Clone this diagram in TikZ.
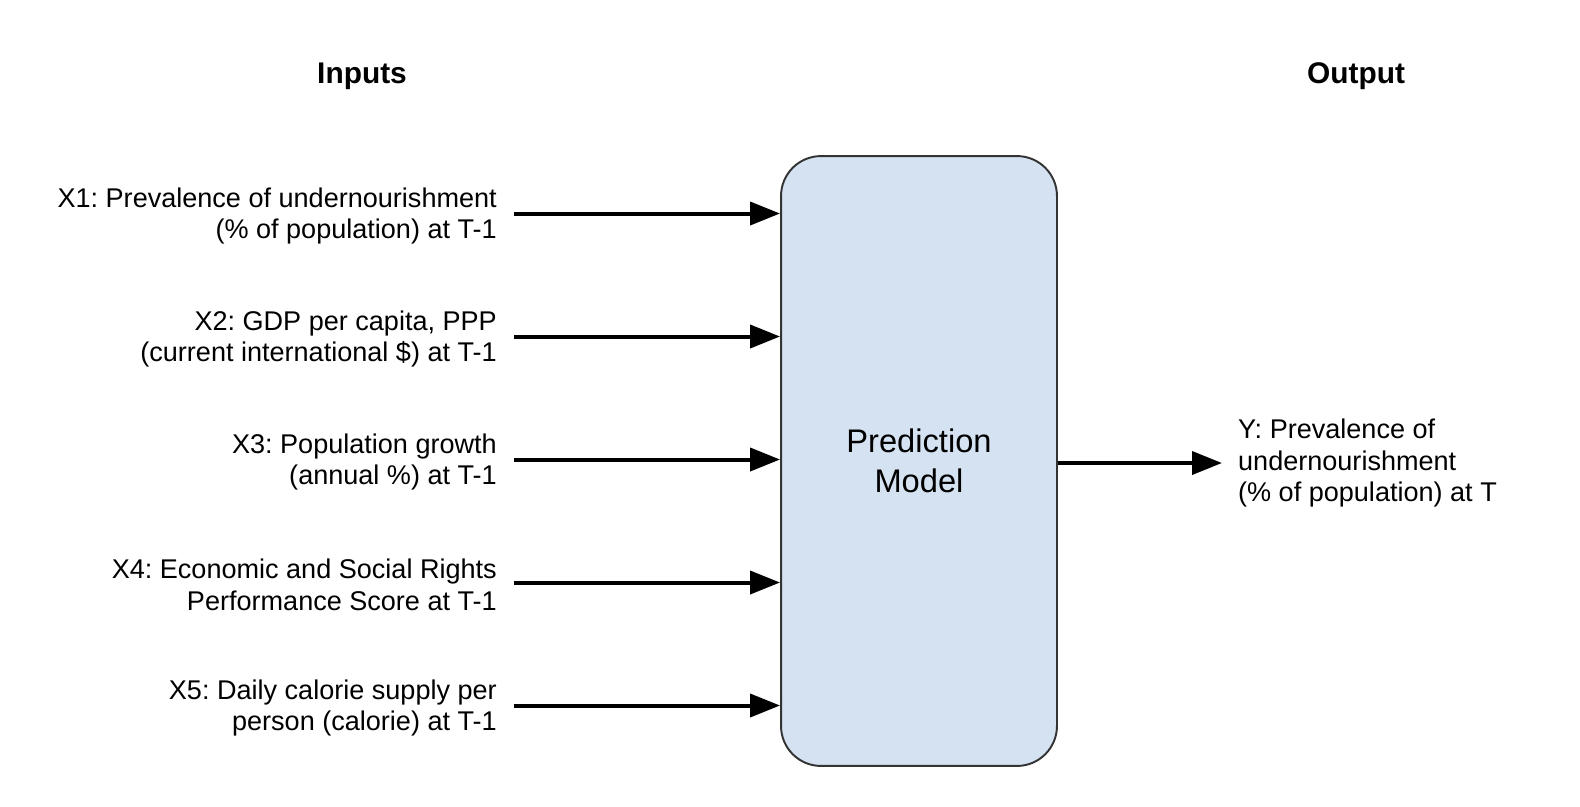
\documentclass[tikz,border=0pt]{standalone}
\usepackage{fontspec}
\setmainfont{Liberation Sans}
\frenchspacing
\usetikzlibrary{shapes,arrows.meta}
\definecolor{modelblue}{RGB}{213,226,242}
\definecolor{modeledge}{RGB}{51,51,51}
\tikzstyle{block} = [rectangle, draw=modeledge, line width=1.1pt, fill=modelblue, rounded corners=0.8cm,
minimum width=5.52cm, minimum height=12.2cm, align=center, font=\fontsize{18.6}{22.7}\selectfont]
\tikzstyle{inlabel} = [anchor=east, align=right, inner xsep=9.6pt, inner ysep=0pt, font=\fontsize{15.4}{18.1}\selectfont]
\tikzstyle{outlabel} = [anchor=west, align=left, inner xsep=9pt, inner ysep=0pt, font=\fontsize{15.4}{18.1}\selectfont]
\tikzstyle{heading} = [font=\fontsize{17}{20}\selectfont\bfseries]
\tikzstyle{line} = [draw, line width=2.27pt, -{Triangle[length=17pt,width=13pt]}]

\begin{document}
\begin{tikzpicture}[x=0.02cm, y=-0.02cm]
	\useasboundingbox (0,0) rectangle (1580,806);
	% Place nodes
	\node [heading] (inputs) at (362,76) {Inputs};
	\node [heading] (output) at (1356,76) {Output};
	\node [block] (model) at (919,461) {Prediction\\Model};
	\node [inlabel] (x1) at (514,216) {X1: Prevalence of undernourishment\\(\% of population) at T-1};
	\node [inlabel] (x2) at (514,339) {X2: GDP per capita, PPP\\(current international \$) at T-1};
	\node [inlabel] (x3) at (514,462) {X3: Population growth\\(annual \%) at T-1};
	\node [inlabel] (x4) at (514,585) {X4: Economic and Social Rights\\Performance Score at T-1};
	\node [inlabel] (x5) at (514,708) {X5: Daily calorie supply per\\person (calorie) at T-1};
	\node [outlabel] (y) at (1222,463) {Y: Prevalence of\\undernourishment\\(\% of population) at T};
	% Draw edges
	\path [line] ([yshift=0.05cm]x1.east) -- ([yshift=0.05cm]x1.east -| model.west);
	\path [line] ([yshift=0.05cm]x2.east) -- ([yshift=0.05cm]x2.east -| model.west);
	\path [line] ([yshift=0.05cm]x3.east) -- ([yshift=0.05cm]x3.east -| model.west);
	\path [line] ([yshift=0.05cm]x4.east) -- ([yshift=0.05cm]x4.east -| model.west);
	\path [line] ([yshift=0.05cm]x5.east) -- ([yshift=0.05cm]x5.east -| model.west);
	\path [line] (model.east |- y.west) -- (y.west);
\end{tikzpicture}
\end{document}
